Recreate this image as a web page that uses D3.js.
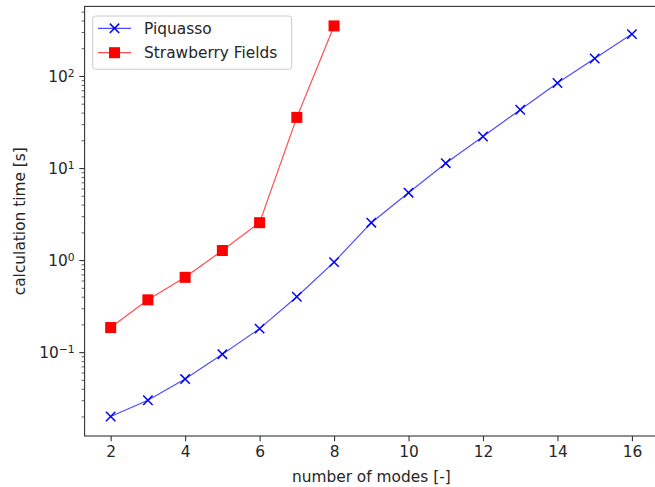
<!DOCTYPE html>
<html>
<head>
<meta charset="utf-8">
<script src="https://cdn.jsdelivr.net/npm/d3@7"></script>
<style>
  body { margin: 0; background: #fff; }
  svg { display: block; font-family: "DejaVu Sans", sans-serif; }
</style>
</head>
<body>
<div id="chart"></div>
<script>
const piquassoModes = [2, 3, 4, 5, 6, 7, 8, 9, 10, 11, 12, 13, 14, 15, 16];
const piquassoTimes = [0.020, 0.030, 0.051, 0.095, 0.18, 0.40, 0.95, 2.55, 5.4, 11.3, 22, 43, 84, 155, 285];
const sfModes = [2, 3, 4, 5, 6, 7, 8];
const sfTimes = [0.185, 0.37, 0.65, 1.27, 2.55, 35.5, 350];
const xTicks = [2, 4, 6, 8, 10, 12, 14, 16];
const yTickExps = [-1, 0, 1, 2];

const width = 655;
const height = 487;
const margin = { top: 6.4, right: -3, bottom: 51, left: 84.6 };
const fontSize = 15.4;

const x = d3.scaleLinear()
  .domain([1.3, 16.7])
  .range([margin.left, width - margin.right]);

const y = d3.scaleLog()
  .domain([Math.pow(10, -1.911), Math.pow(10, 2.756)])
  .range([height - margin.bottom, margin.top]);

const svg = d3.select("#chart").append("svg")
  .attr("width", width)
  .attr("height", height);

svg.append("clipPath").attr("id", "clip")
  .append("rect")
  .attr("x", margin.left).attr("y", margin.top)
  .attr("width", width - margin.right - margin.left)
  .attr("height", height - margin.bottom - margin.top);

// x axis
const xAxis = svg.append("g")
  .attr("transform", `translate(0,${height - margin.bottom})`)
  .call(d3.axisBottom(x).tickValues(xTicks).tickSize(5.3).tickPadding(5).tickSizeOuter(0));
xAxis.select(".domain").remove();
xAxis.selectAll("text").attr("font-size", fontSize).attr("fill", "#262626").attr("font-family", "DejaVu Sans");
xAxis.selectAll("line").attr("stroke", "#333").attr("stroke-width", 1.1);

// y axis major
const yMajor = yTickExps.map(e => Math.pow(10, e));
const yAxis = svg.append("g")
  .attr("transform", `translate(${margin.left},0)`)
  .call(d3.axisLeft(y).tickValues(yMajor).tickSize(5.3).tickFormat(""));
yAxis.select(".domain").remove();
yAxis.selectAll("line").attr("stroke", "#333").attr("stroke-width", 1.1);

yAxis.selectAll(".tick text").remove();
yAxis.selectAll(".tick").append("text")
  .attr("x", -10)
  .attr("dy", "0.36em")
  .attr("text-anchor", "end")
  .attr("fill", "#262626")
  .attr("font-size", fontSize)
  .attr("font-family", "DejaVu Sans")
  .each(function(d, i) {
    const t = d3.select(this);
    t.append("tspan").text("10");
    t.append("tspan").attr("dy", "-0.45em").attr("font-size", fontSize * 0.7)
      .text(String(yTickExps[i]).replace("-", "\u2212"));
  });

// y minor ticks
const yMinor = [];
for (let e = -2; e <= 2; e++) {
  for (let m = 2; m <= 9; m++) {
    const v = m * Math.pow(10, e);
    if (v >= y.domain()[0] && v <= y.domain()[1]) yMinor.push(v);
  }
}
svg.append("g")
  .attr("transform", `translate(${margin.left},0)`)
  .call(d3.axisLeft(y).tickValues(yMinor).tickSize(3).tickFormat(""))
  .call(g => g.select(".domain").remove())
  .selectAll("line").attr("stroke", "#333").attr("stroke-width", 0.8);

// spines
svg.append("rect")
  .attr("fill", "none").attr("stroke", "#333").attr("stroke-width", 1.1)
  .attr("x", margin.left).attr("y", margin.top)
  .attr("width", width - margin.right - margin.left)
  .attr("height", height - margin.bottom - margin.top);

// axis labels
svg.append("text")
  .attr("x", (margin.left + width - margin.right) / 2)
  .attr("y", height - 5)
  .attr("text-anchor", "middle")
  .attr("font-size", fontSize)
  .attr("fill", "#262626")
  .text("number of modes [-]");

svg.append("text")
  .attr("transform", `translate(25,${(margin.top + height - margin.bottom) / 2}) rotate(-90)`)
  .attr("text-anchor", "middle")
  .attr("font-size", fontSize)
  .attr("fill", "#262626")
  .text("calculation time [s]");

const plot = svg.append("g").attr("clip-path", "url(#clip)");
const line = d3.line().x(d => x(d[0])).y(d => y(d[1]));

const pq = piquassoModes.map((m, i) => [m, piquassoTimes[i]]);
const sf = sfModes.map((m, i) => [m, sfTimes[i]]);

function crossPath(cx, cy, r) {
  return `M${cx - r},${cy - r}L${cx + r},${cy + r}M${cx - r},${cy + r}L${cx + r},${cy - r}`;
}

plot.append("path").datum(pq)
  .attr("d", line).attr("fill", "none")
  .attr("stroke", "#0000ff").attr("stroke-opacity", 0.7).attr("stroke-width", 1.2);
plot.append("g").selectAll("path").data(pq).join("path")
  .attr("d", d => crossPath(x(d[0]), y(d[1]), 4.7))
  .attr("stroke", "#0000ff").attr("stroke-width", 1.5).attr("fill", "none");

plot.append("path").datum(sf)
  .attr("d", line).attr("fill", "none")
  .attr("stroke", "#ff0000").attr("stroke-opacity", 0.7).attr("stroke-width", 1.2);
plot.append("g").selectAll("rect").data(sf).join("rect")
  .attr("x", d => x(d[0]) - 5.5).attr("y", d => y(d[1]) - 5.5)
  .attr("width", 11).attr("height", 11)
  .attr("fill", "#ff0000");

// legend
const legend = svg.append("g");
legend.append("rect")
  .attr("x", 92.7).attr("y", 16).attr("width", 199).attr("height", 53.3)
  .attr("rx", 3).attr("fill", "#fff").attr("fill-opacity", 0.8)
  .attr("stroke", "#cccccc").attr("stroke-width", 1);

const entries = [
  { name: "Piquasso", color: "#0000ff", marker: "x", yy: 28.3 },
  { name: "Strawberry Fields", color: "#ff0000", marker: "s", yy: 52.7 }
];
entries.forEach(e => {
  legend.append("line")
    .attr("x1", 98).attr("x2", 131).attr("y1", e.yy).attr("y2", e.yy)
    .attr("stroke", e.color).attr("stroke-opacity", 0.7).attr("stroke-width", 1.2);
  if (e.marker === "x") {
    legend.append("path").attr("d", crossPath(114.5, e.yy, 4.7))
      .attr("stroke", e.color).attr("stroke-width", 1.5).attr("fill", "none");
  } else {
    legend.append("rect").attr("x", 109).attr("y", e.yy - 5.5)
      .attr("width", 11).attr("height", 11).attr("fill", e.color);
  }
  legend.append("text")
    .attr("x", 144).attr("y", e.yy).attr("dy", "0.36em")
    .attr("font-size", fontSize).attr("fill", "#262626")
    .text(e.name);
});
</script>
</body>
</html>
